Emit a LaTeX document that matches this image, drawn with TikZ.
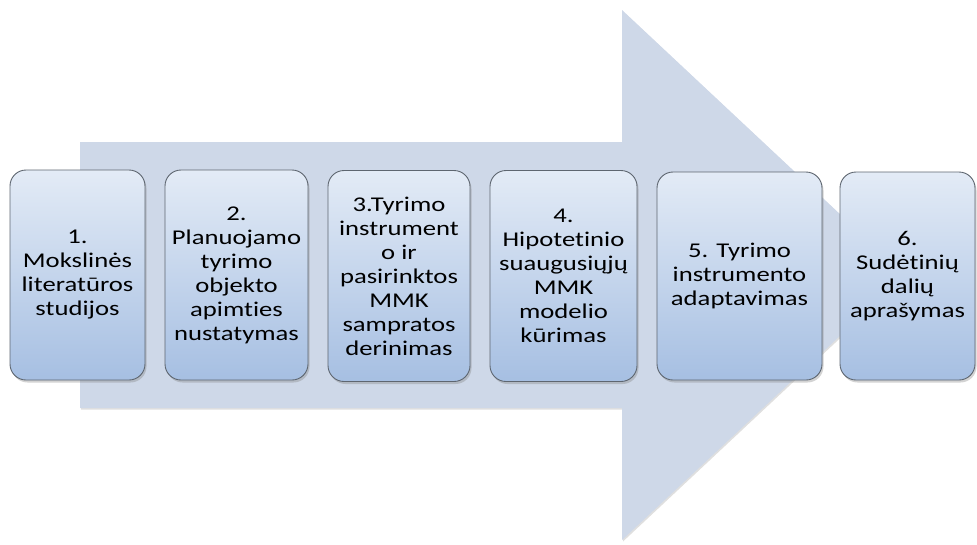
\documentclass[tikz,border=0pt]{standalone}
\usepackage{fontspec}
\setmainfont[FakeStretch=1.27, Ligatures=NoCommon]{Carlito}
\usetikzlibrary{shadows}
\definecolor{arrowfill}{HTML}{CED8E8}
\definecolor{boxtop}{HTML}{E3EBF6}
\definecolor{boxbottom}{HTML}{A6BFE2}
\definecolor{boxedge}{HTML}{5E6670}
\tikzset{
  stepbox/.style={draw=boxedge, line width=0.9pt, rounded corners=16pt,
    top color=boxtop, bottom color=boxbottom, align=center,
    inner sep=1pt, font=\fontsize{21}{24}\selectfont,
    drop shadow={shadow xshift=1.5pt, shadow yshift=-2.5pt, opacity=0.35}},
  bigarrow/.style={fill=arrowfill,
    drop shadow={shadow xshift=1pt, shadow yshift=-1.5pt, opacity=0.25}}
}
\begin{document}
\begin{tikzpicture}[x=1pt,y=-1pt]
\useasboundingbox (0,0) rectangle (977,544);
% broad arrow behind the steps
\path[bigarrow] (80,142) -- (622,142) -- (622,10) -- (905,275)
  -- (622,540) -- (622,408) -- (80,408) -- cycle;
% process steps
\node[stepbox, minimum width=135pt, minimum height=210pt] (s1) at (77.5,275)
  {1.\\Mokslinės\\literatūros\\studijos};
\node[stepbox, minimum width=143pt, minimum height=210pt] (s2) at (236.5,275)
  {2.\\Planuojamo\\tyrimo\\objekto\\apimties\\nustatymas};
\node[stepbox, minimum width=142pt, minimum height=211pt] (s3) at (399,276)
  {3.Tyrimo\\instrument\\o ir\\pasirinktos\\MMK\\sampratos\\derinimas};
\node[stepbox, minimum width=147pt, minimum height=211pt] (s4) at (563.5,276)
  {4.\\Hipotetinio\\suaugusiųjų\\MMK\\modelio\\kūrimas};
\node[stepbox, minimum width=165pt, minimum height=208pt] (s5) at (739.5,276)
  {5. Tyrimo\\instrumento\\adaptavimas};
\node[stepbox, minimum width=135pt, minimum height=208pt] (s6) at (907.5,276)
  {6.\\Sudėtinių\\dalių\\aprašymas};
\end{tikzpicture}
\end{document}
